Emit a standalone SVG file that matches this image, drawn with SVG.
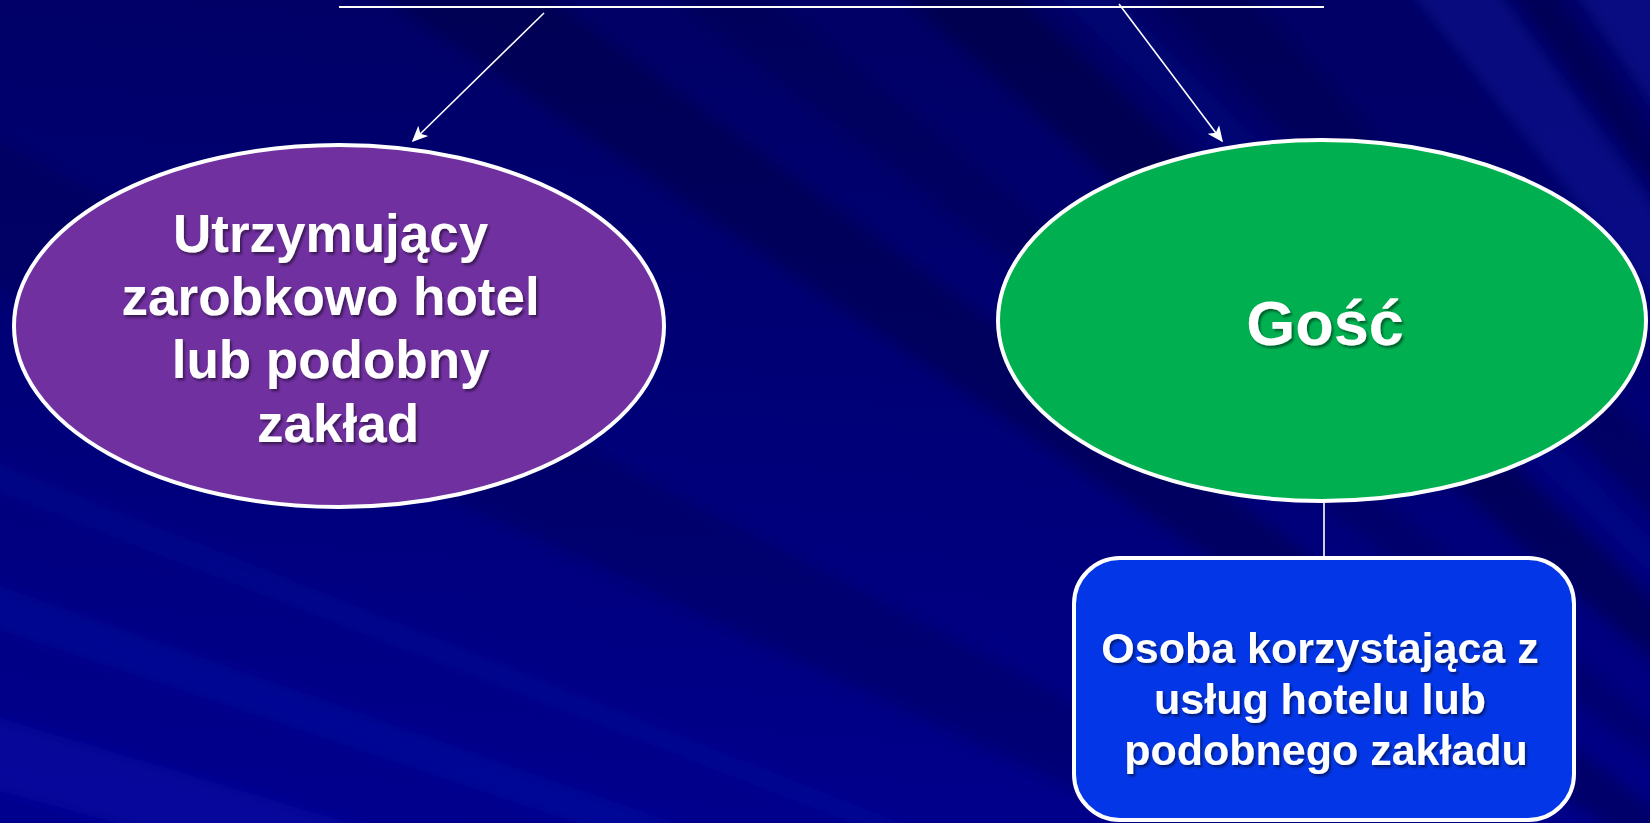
<svg xmlns="http://www.w3.org/2000/svg" width="1650" height="823" viewBox="0 0 1650 823">
  <defs>
    <linearGradient id="bg" x1="0.35" y1="0" x2="0.2" y2="1">
      <stop offset="0" stop-color="#000066"/>
      <stop offset="0.55" stop-color="#00007A"/>
      <stop offset="1" stop-color="#00008E"/>
    </linearGradient>
    <filter id="soft" filterUnits="userSpaceOnUse" x="-100" y="-100" width="1850" height="1023">
      <feGaussianBlur stdDeviation="7"/>
    </filter>
    <filter id="sh" x="-10%" y="-10%" width="120%" height="130%">
      <feDropShadow dx="2" dy="2.5" stdDeviation="1.2" flood-color="#000000" flood-opacity="0.45"/>
    </filter>
    <marker id="arr" viewBox="0 0 10 10" refX="9" refY="5" markerWidth="16" markerHeight="16" markerUnits="userSpaceOnUse" orient="auto">
      <path d="M0,0.5 L10,5 L0,9.5 L2.5,5 z" fill="#FFFFFF"/>
    </marker>
    <style>
      .lbl { font-family: "Liberation Sans", Arial, sans-serif; font-weight: bold; fill: #FFFFFF; text-anchor: middle; filter: url(#sh); }
      .node { stroke: #FFFFFF; stroke-width: 4; }
      .conn { stroke: #FFFFFF; stroke-width: 1.6; fill: none; }
      .dark { fill: #000030; }
      .light { fill: #1E32E0; }
    </style>
  </defs>

  <!-- background -->
  <rect x="0" y="0" width="1650" height="823" fill="url(#bg)"/>
  <g id="rays" filter="url(#soft)">
    <polygon class="light" opacity="0.16" points="2600,1500 -60,700 -60,775"/>
    <polygon class="light" opacity="0.12" points="2600,1500 -60,565 -60,610"/>
    <polygon class="light" opacity="0.09" points="2600,1500 -60,440 -60,470"/>
    <polygon class="dark" opacity="0.22" points="2600,1500 -60,110 -60,260"/>
    <polygon class="dark" opacity="0.35" points="2600,1500 300,-60 470,-60"/>
    <polygon class="dark" opacity="0.22" points="2600,1500 600,-60 700,-60"/>
    <polygon class="dark" opacity="0.4" points="2600,1500 840,-60 960,-60"/>
    <polygon class="light" opacity="0.08" points="2600,1500 1000,-60 1060,-60"/>
    <polygon class="dark" opacity="0.25" points="2600,1500 1100,-60 1200,-60"/>
    <polygon class="light" opacity="0.2" points="2600,1500 1370,-60 1460,-60"/>
    <polygon class="dark" opacity="0.28" points="2600,1500 1475,-60 1515,-60"/>
    <polygon class="light" opacity="0.22" points="2600,1500 1540,-60 1720,-60"/>
  </g>

  <!-- connectors -->
  <g id="connectors">
    <line x1="339" y1="7" x2="1324" y2="7" stroke="#FFFFFF" stroke-width="2.2"/>
    <line class="conn" x1="544" y1="13" x2="413" y2="141" marker-end="url(#arr)"/>
    <line class="conn" x1="1119" y1="4" x2="1222" y2="141" marker-end="url(#arr)"/>
    <line class="conn" x1="1324" y1="503" x2="1324" y2="557"/>
  </g>

  <!-- nodes -->
  <g id="node-utrzymujacy">
    <ellipse class="node" cx="339" cy="326" rx="325" ry="181" fill="#7030A0"/>
    <text class="lbl" font-size="53">
      <tspan x="338" y="252">Utrzymujący</tspan>
      <tspan x="338" y="315">zarobkowo hotel</tspan>
      <tspan x="338" y="378">lub podobny</tspan>
      <tspan x="338" y="442">zakład</tspan>
    </text>
  </g>

  <g id="node-gosc">
    <ellipse class="node" cx="1322" cy="320.5" rx="324" ry="180.5" fill="#00B050"/>
    <text class="lbl" font-size="63" x="1325" y="345">Gość</text>
  </g>

  <g id="node-osoba">
    <rect class="node" x="1074" y="558" width="500" height="262" rx="46" ry="46" fill="#0336E6"/>
    <text class="lbl" font-size="43">
      <tspan x="1326" y="663">Osoba korzystająca z</tspan>
      <tspan x="1326" y="714">usług hotelu lub</tspan>
      <tspan x="1326" y="765">podobnego zakładu</tspan>
    </text>
  </g>
</svg>
